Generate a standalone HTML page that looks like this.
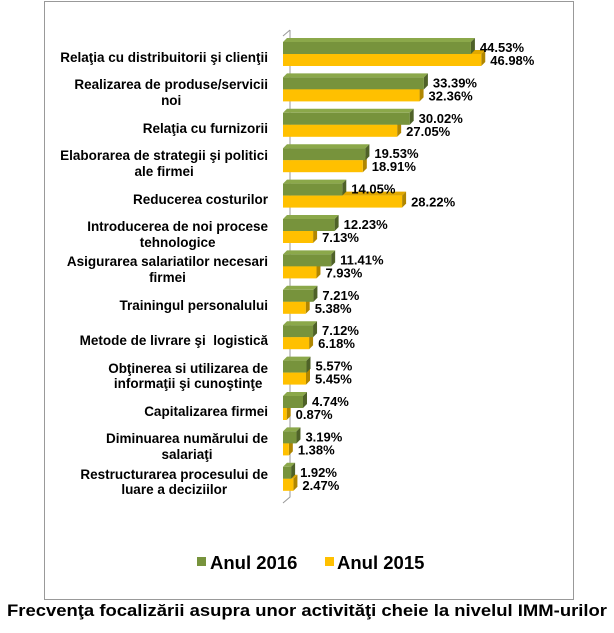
<!DOCTYPE html>
<html><head><meta charset="utf-8"><style>
html,body{margin:0;padding:0;background:#fff;width:614px;height:633px;overflow:hidden;font-family:"Liberation Sans",Arial,sans-serif}
.c{position:absolute;right:346px;text-align:center;font-weight:bold;font-size:13.5px;line-height:15.5px;white-space:pre;color:#000}
</style></head><body>
<div style="position:absolute;left:44px;top:1px;width:528px;height:597px;border:1px solid #999"></div>
<svg width="614" height="633" style="position:absolute;left:0;top:0" xmlns="http://www.w3.org/2000/svg">
<polyline points="290,30 290,497 283,503" fill="none" stroke="#999" stroke-width="1"/>
<polyline points="290,30 283,36" fill="none" stroke="#999" stroke-width="1"/>
<g id="bars"></g>
<rect x="197" y="557" width="9" height="9" fill="#77933C"/>
<text x="210" y="569" font-size="18.5" font-weight="bold">Anul 2016</text>
<rect x="325" y="557" width="9" height="9" fill="#FFC000"/>
<text x="337" y="569" font-size="18.5" font-weight="bold">Anul 2015</text>
<text x="307" y="616" font-size="17" font-weight="bold" text-anchor="middle" textLength="600" lengthAdjust="spacingAndGlyphs">Frecvenţa focalizării asupra unor activităţi cheie la nivelul IMM-urilor</text>
</svg>
<div id="labels"></div>
<script>
var d=[["Relaţia cu distribuitorii şi clienţii",44.53,46.98],["Realizarea de produse/servicii\nnoi",33.39,32.36],["Relaţia cu furnizorii",30.02,27.05],["Elaborarea de strategii şi politici\nale firmei",19.53,18.91],["Reducerea costurilor",14.05,28.22],["Introducerea de noi procese\ntehnologice",12.23,7.13],["Asigurarea salariatilor necesari\nfirmei",11.41,7.93],["Trainingul personalului",7.21,5.38],["Metode de livrare şi  logistică",7.12,6.18],["Obţinerea si utilizarea de\ninformaţii şi cunoştinţe",5.57,5.45],["Capitalizarea firmei",4.74,0.87],["Diminuarea numărului de\nsalariaţi",3.19,1.38],["Restructurarea procesului de\nluare a deciziilor",1.92,2.47]];
var g="",L="",x0=283,k=4.22,D=4,h=12;
function depth(x1,y,col,side){return '<polygon points="'+x0+','+y+' '+(x0+D)+','+(y-D)+' '+(x1+D)+','+(y-D)+' '+x1+','+y+'" fill="'+col+'"/>'+'<polygon points="'+x1+','+y+' '+(x1+D)+','+(y-D)+' '+(x1+D)+','+(y+h-D)+' '+x1+','+(y+h)+'" fill="'+side+'"/>';}
d.forEach(function(r,i){var t=42+i*35.4;var ge=x0+r[1]*k,ye=x0+r[2]*k;
g+=depth(ye,t+h,"#E0A800","#B08600");
g+=depth(ge,t,"#8BA84A","#4F6228");
g+='<rect x="'+x0+'" y="'+t+'" width="'+(ge-x0)+'" height="'+h+'" fill="#77933C"/>';
g+='<rect x="'+x0+'" y="'+(t+h)+'" width="'+(ye-x0)+'" height="'+h+'" fill="#FFC000"/>';
g+='<text x="'+(ge+9)+'" y="'+(t+10)+'" font-size="13" font-weight="bold">'+r[1].toFixed(2)+'%</text>';
g+='<text x="'+(ye+9)+'" y="'+(t+23)+'" font-size="13" font-weight="bold">'+r[2].toFixed(2)+'%</text>';
var two=r[0].indexOf("\n")>=0;var top=two?(t+h+4-16):(t+h+4-8);
L+='<div class="c" style="top:'+top+'px">'+r[0]+'</div>';});
document.getElementById("bars").innerHTML=g;document.getElementById("labels").innerHTML=L;
</script>
</body></html>
